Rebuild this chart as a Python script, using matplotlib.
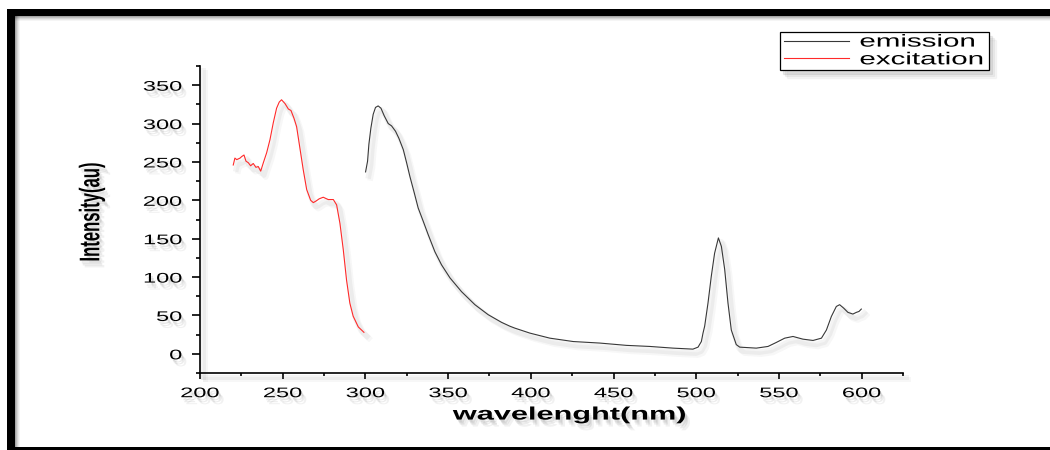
import matplotlib
matplotlib.use("Agg")
import matplotlib.pyplot as plt
import matplotlib.patheffects as pe
import matplotlib.colors as mcolors
from matplotlib.patches import Rectangle
from matplotlib.transforms import Affine2D
from matplotlib.ticker import MultipleLocator

# excitation spectrum
ex_nm = [220.1, 221.1, 222.2, 224.2, 225.2, 226.6, 227.8, 229.2, 230.6, 232.2,
         233.8, 235.2, 236.7, 238.3, 240.3, 242.3, 244.3, 246.3, 247.9, 249.3,
         251.4, 253.4, 255.0, 256.8, 258.4, 260.4, 262.4, 264.5, 266.9, 268.5,
         270.1, 272.1, 274.5, 277.5, 280.6, 282.6, 284.6, 286.6, 288.6, 290.6,
         292.6, 295.7, 299.1]
ex_int = [246, 255, 253, 255, 257, 259, 251, 249, 245, 248,
          243, 244, 238, 249, 262, 279, 301, 320, 328, 331,
          326, 319, 317, 307, 296, 268, 240, 214, 200, 197,
          199, 202, 204, 201, 201, 194, 170, 136, 96, 66,
          49, 35, 28]

# emission spectrum
em_nm = [300.1, 301.3, 302.1, 303.3, 304.7, 306.1, 307.7, 309.4, 311.4, 313.8,
         315.8, 318.2, 320.2, 322.9, 324.9, 326.9, 329.5, 331.9, 334.9, 338.0,
         342.0, 346.0, 351.1, 358.1, 366.2, 374.2, 382.3, 387.3, 390.3, 399.4,
         411.5, 425.6, 441.7, 457.8, 471.9, 486.0, 498.0, 501.1, 503.1, 504.1,
         505.1, 507.1, 509.1, 511.1, 513.4, 515.2, 517.2, 519.2, 521.2, 524.2,
         526.3, 536.3, 543.4, 548.4, 553.5, 558.5, 564.5, 570.6, 575.7, 578.7,
         581.7, 584.7, 586.7, 589.1, 591.7, 594.7, 596.8, 598.4, 599.8]
em_int = [237, 251, 273, 294, 312, 321, 323, 320, 310, 300,
          297, 290, 281, 266, 249, 231, 210, 190, 173, 155,
          133, 116, 99, 81, 64, 51, 41, 36, 33.5, 27,
          20.4, 16, 14, 11, 9.6, 7.4, 6.1, 8.7, 16, 27,
          36, 66, 101, 131, 151, 140, 110, 66, 31, 12,
          8.7, 7.4, 9.6, 14.8, 20.4, 22.6, 19.1, 17.4, 20.4, 31,
          48.7, 61.7, 64, 59.6, 54, 51.8, 54, 55.2, 58.3]

x_ticks = [200, 250, 300, 350, 400, 450, 500, 550, 600]
y_ticks = [0, 50, 100, 150, 200, 250, 300, 350]

SX = 1.7  # the picture is stretched sideways
SHADOW_RGB = mcolors.to_rgb("0.4")


class Stretch(pe.AbstractPathEffect):
    """Stretch a path sideways in display space and give it a soft drop shadow."""

    def __init__(self, sx=SX, anchor="center", layers=None, widen=1.0, shared=None):
        super().__init__()
        self.sx = sx
        self.anchor = anchor
        self.layers = layers or []
        self.widen = widen
        self.shared = shared

    def draw_path(self, renderer, gc, tpath, affine, rgbFace=None):
        bb = tpath.get_extents(affine)
        if self.anchor == "left":
            x0 = bb.x0
        elif self.anchor == "right":
            x0 = bb.x1
        elif self.anchor == "record":
            x0 = bb.x0
            self.shared["x0"] = x0
        elif self.anchor == "shared":
            x0 = self.shared.get("x0", bb.x0)
        else:
            x0 = (bb.x0 + bb.x1) / 2
        aff = affine + Affine2D().translate(-x0, 0).scale(self.sx, 1).translate(x0, 0)
        for dx, dy, a in self.layers:
            g = renderer.new_gc()
            g.copy_properties(gc)
            g.set_foreground(SHADOW_RGB)
            g.set_alpha(a)
            g.set_linewidth(gc.get_linewidth() * self.widen)
            face = None if rgbFace is None else SHADOW_RGB
            renderer.draw_path(g, tpath, aff + Affine2D().translate(dx, -dy), face)
            g.restore()
        renderer.draw_path(gc, tpath, aff, rgbFace)


TEXT_SHADOW = [(2, 3, 0.12), (3, 5, 0.12), (5, 7, 0.09)]
LINE_SHADOW = [(3, 4, 0.07), (5, 6, 0.05)]

plt.rcParams["font.family"] = ["Liberation Sans", "DejaVu Sans"]

W, H = 1050, 450
fig = plt.figure(figsize=(W / 100, H / 100), dpi=100)
fig.patch.set_facecolor("white")


def px_rect(x0, y0, x1, y1, **kw):
    # rectangle given in image pixels, origin top-left
    return Rectangle((x0 / W, 1 - y1 / H), (x1 - x0) / W, (y1 - y0) / H,
                     transform=fig.transFigure, **kw)


# page frame
for i, a in enumerate([0.35, 0.25, 0.16, 0.09, 0.04]):
    fig.add_artist(px_rect(7, 16 + i, W, 17 + i, facecolor="black", alpha=a, lw=0))
    fig.add_artist(px_rect(15 + i, 16, 16 + i, 447, facecolor="black", alpha=a, lw=0))
fig.add_artist(px_rect(7, 9, W, 16, facecolor="black", lw=0))
fig.add_artist(px_rect(7, 9, 15, H, facecolor="black", lw=0))
fig.add_artist(px_rect(7, 447, W, H, facecolor="black", lw=0))

ax = fig.add_axes([200 / W, 77 / H, 703 / W, 307 / H])
ax.set_facecolor("none")

l_em, = ax.plot(em_nm, em_int, color="#383838", lw=0.8, label="emission")
l_ex, = ax.plot(ex_nm, ex_int, color="#ff2a2a", lw=0.8, label="excitation")
for ln in (l_em, l_ex):
    ln.set_path_effects([Stretch(sx=1, layers=LINE_SHADOW, widen=5)])

ax.set_xlim(200, 625)
ax.set_ylim(-25, 375)
ax.set_xticks(x_ticks)
ax.set_yticks(y_ticks)
ax.xaxis.set_minor_locator(MultipleLocator(25))
ax.yaxis.set_minor_locator(MultipleLocator(25))

for side in ("top", "right"):
    ax.spines[side].set_visible(False)
for side in ("left", "bottom"):
    ax.spines[side].set_linewidth(1.2)
    ax.spines[side].set_path_effects([Stretch(sx=1, layers=LINE_SHADOW, widen=3)])

ax.tick_params(axis="both", which="both", direction="out", width=1.2, colors="black")
ax.tick_params(axis="y", which="major", length=6, pad=7, labelsize=10)
ax.tick_params(axis="y", which="minor", length=3)
ax.tick_params(axis="x", which="major", length=4.5, pad=5, labelsize=10)
ax.tick_params(axis="x", which="minor", length=2.2)

for t in ax.xaxis.get_major_ticks():
    t.label1.set_path_effects([Stretch(anchor="center", layers=TEXT_SHADOW)])
for t in ax.yaxis.get_major_ticks():
    t.label1.set_path_effects([Stretch(anchor="right", layers=TEXT_SHADOW)])

ax.set_xlabel("wavelenght(nm)", fontsize=13, fontweight="bold")
ax.xaxis.label.set_va("center")
ax.xaxis.set_label_coords(0.525, -0.137)
ax.xaxis.label.set_path_effects([Stretch(anchor="center", layers=TEXT_SHADOW)])

ax.set_ylabel("Intensity(au)", fontsize=12, fontweight="bold")
ax.yaxis.label.set_va("center")
ax.yaxis.set_label_coords(-0.154, 0.524)
ax.yaxis.label.set_path_effects([Stretch(anchor="center", layers=TEXT_SHADOW)])

leg = ax.legend(loc="upper left", bbox_to_anchor=(780 / W, 1 - 32 / H),
                bbox_transform=fig.transFigure, fontsize=12.5, frameon=True,
                fancybox=False, edgecolor="black", framealpha=1,
                borderpad=0.14, borderaxespad=0, labelspacing=0.15,
                handlelength=2.2, handletextpad=0.35)
leg.get_frame().set_linewidth(0.9)
shared = {}
leg.get_frame().set_path_effects([Stretch(anchor="record", shared=shared,
                                          layers=[(3, 4, 0.12), (5, 6, 0.08), (7, 8, 0.05)])])
for txt in leg.get_texts():
    txt.set_path_effects([Stretch(anchor="shared", shared=shared)])
for ln in leg.get_lines():
    ln.set_path_effects([Stretch(anchor="shared", shared=shared)])

fig.savefig("out.png", dpi=100)
